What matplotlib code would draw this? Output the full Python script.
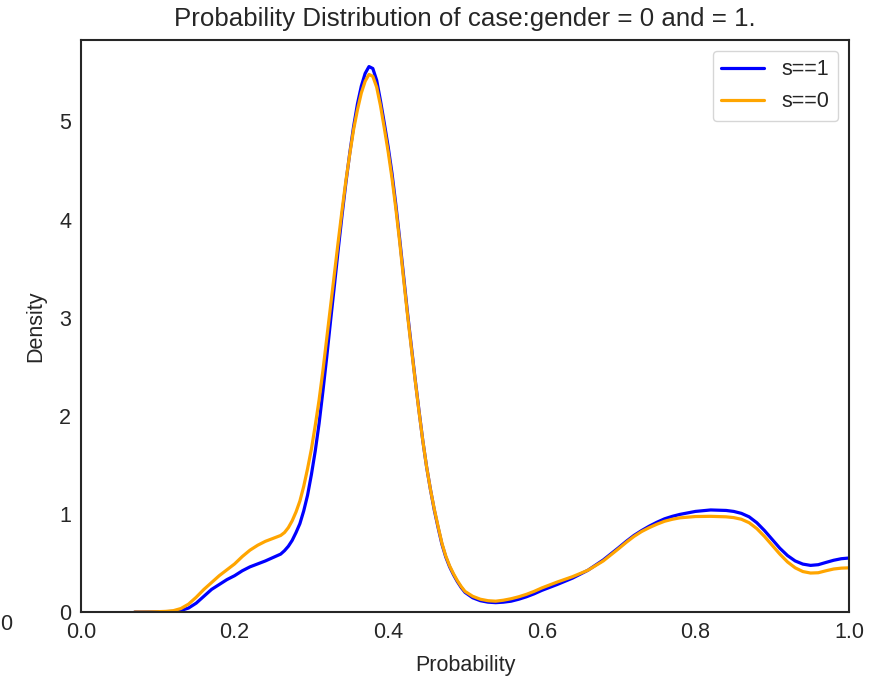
import numpy as np
import matplotlib
matplotlib.use("Agg")
import matplotlib.pyplot as plt
import seaborn as sns

# curve values (x = probability, y = density)
x_vals = [0.07, 0.08, 0.09, 0.10, 0.11, 0.12, 0.13, 0.14, 0.15, 0.16, 0.17, 0.18, 0.19, 0.20,
          0.21, 0.22, 0.23, 0.24, 0.25, 0.26, 0.265, 0.27, 0.275, 0.28, 0.285, 0.29, 0.295,
          0.30, 0.305, 0.31, 0.315, 0.32, 0.325, 0.33, 0.335, 0.34, 0.345, 0.35, 0.355, 0.36,
          0.365, 0.37, 0.375, 0.38, 0.385, 0.39, 0.395, 0.40, 0.405, 0.41, 0.415, 0.42, 0.425,
          0.43, 0.435, 0.44, 0.445, 0.45, 0.455, 0.46, 0.465, 0.47, 0.475, 0.48, 0.485, 0.49,
          0.495, 0.50, 0.51, 0.52, 0.53, 0.54, 0.55, 0.56, 0.57, 0.58, 0.59, 0.60, 0.62, 0.64,
          0.66, 0.68, 0.70, 0.71, 0.72, 0.73, 0.74, 0.75, 0.76, 0.77, 0.78, 0.80, 0.82, 0.84,
          0.85, 0.86, 0.87, 0.88, 0.89, 0.90, 0.91, 0.92, 0.93, 0.94, 0.95, 0.96, 0.97, 0.98,
          0.99, 1.00]

y_s1 = [0.0, 0.0, 0.001, 0.002, 0.003, 0.006, 0.015, 0.04, 0.09, 0.16, 0.23, 0.28, 0.33, 0.37,
        0.42, 0.46, 0.49, 0.52, 0.555, 0.59, 0.625, 0.67, 0.73, 0.81, 0.90, 1.03, 1.19,
        1.40, 1.64, 1.92, 2.25, 2.60, 2.97, 3.33, 3.70, 4.05, 4.38, 4.68, 4.95, 5.18,
        5.36, 5.49, 5.56, 5.54, 5.42, 5.21, 4.98, 4.74, 4.47, 4.15, 3.80, 3.43, 3.06,
        2.72, 2.38, 2.06, 1.75, 1.48, 1.25, 1.04, 0.86, 0.69, 0.56, 0.46, 0.38, 0.31,
        0.25, 0.20, 0.145, 0.115, 0.10, 0.095, 0.10, 0.11, 0.13, 0.155, 0.185, 0.22, 0.28, 0.345,
        0.425, 0.53, 0.655, 0.72, 0.78, 0.83, 0.875, 0.915, 0.95, 0.975, 0.995, 1.025, 1.04, 1.035,
        1.025, 1.005, 0.97, 0.91, 0.83, 0.74, 0.65, 0.575, 0.52, 0.488, 0.475, 0.482, 0.505, 0.527,
        0.543, 0.55]

y_s0 = [0.0, 0.0, 0.001, 0.003, 0.006, 0.013, 0.035, 0.08, 0.15, 0.23, 0.30, 0.37, 0.43, 0.49,
        0.565, 0.63, 0.68, 0.72, 0.75, 0.78, 0.81, 0.86, 0.93, 1.02, 1.13, 1.28, 1.46,
        1.66, 1.90, 2.16, 2.46, 2.79, 3.12, 3.45, 3.78, 4.10, 4.40, 4.67, 4.92, 5.12,
        5.29, 5.41, 5.48, 5.46, 5.35, 5.16, 4.93, 4.69, 4.42, 4.11, 3.77, 3.40, 3.04,
        2.70, 2.37, 2.05, 1.75, 1.48, 1.25, 1.05, 0.87, 0.70, 0.57, 0.47, 0.39, 0.32,
        0.26, 0.21, 0.16, 0.13, 0.115, 0.11, 0.12, 0.135, 0.155, 0.18, 0.21, 0.245, 0.305, 0.36,
        0.425, 0.52, 0.645, 0.71, 0.77, 0.82, 0.86, 0.895, 0.925, 0.945, 0.96, 0.973, 0.975, 0.97,
        0.962, 0.945, 0.91, 0.85, 0.77, 0.68, 0.59, 0.51, 0.45, 0.412, 0.397, 0.40, 0.42, 0.438,
        0.447, 0.45]

sns.set_style("white")
plt.rcParams['font.family'] = ['Liberation Sans', 'DejaVu Sans']
plt.rcParams['font.size'] = 15.5

fig = plt.figure(figsize=(8.71, 6.79), dpi=100)
ax = fig.add_axes([0.093, 0.0987, 0.8817, 0.8423])

ax.plot(x_vals, y_s1, color="blue", linewidth=2.3, label="s==1")
ax.plot(x_vals, y_s0, color="orange", linewidth=2.3, label="s==0")

ax.set_xlim(0, 1)
ax.set_ylim(0, 5.83)
ax.set_xticks([0.0, 0.2, 0.4, 0.6, 0.8, 1.0])
ax.set_yticks([0, 1, 2, 3, 4, 5])
ax.tick_params(labelsize=15.5, colors="#262626")
ax.set_xlabel("Probability", fontsize=15.5, color="#262626", labelpad=9)
ax.set_ylabel("Density", fontsize=15.5, color="#262626", labelpad=9)
ax.set_title("Probability Distribution of case:gender = 0 and = 1.", fontsize=18.6,
             color="#262626", pad=10)
for sp in ax.spines.values():
    sp.set_color("#262626")
    sp.set_linewidth(1.5)

ax.legend(loc="upper right", fontsize=15.5)

# leftover label at the left edge of the picture
fig.text(0.0, 1 - 624 / 679, "0", fontsize=15.5, color="#262626", va="center", ha="left")

fig.savefig("out.png", dpi=100)
